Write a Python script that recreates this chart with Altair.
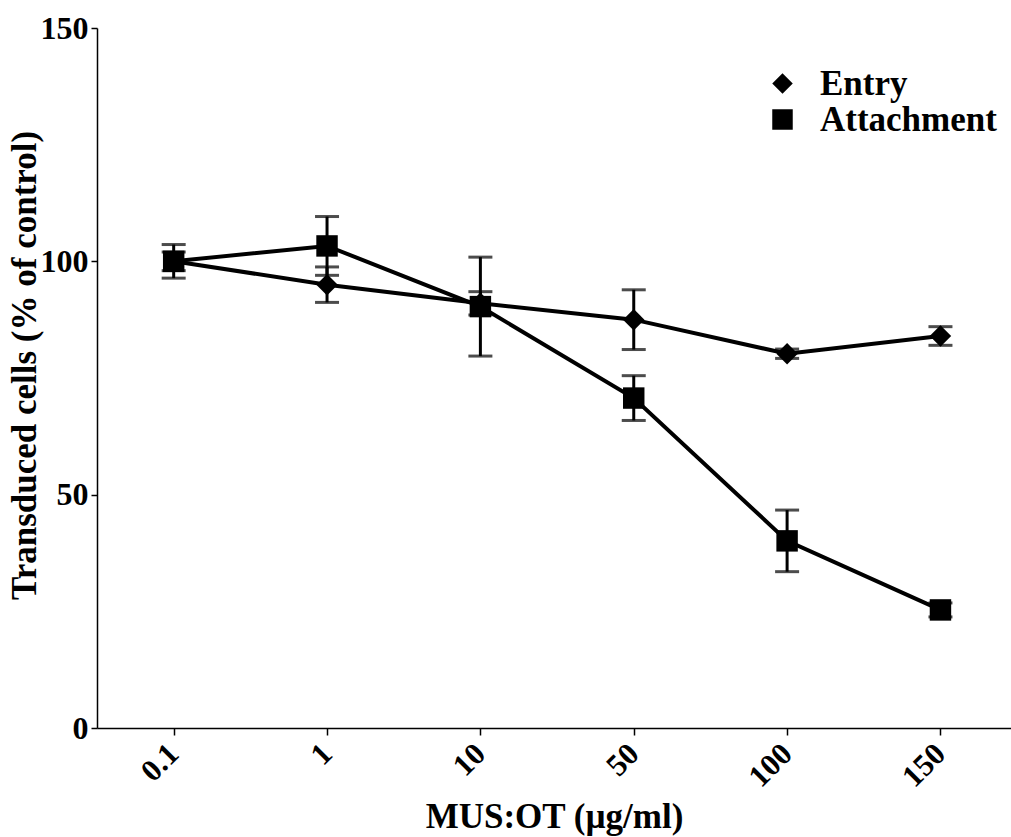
import altair as alt
import pandas as pd

doses = ["0.1", "1", "10", "50", "100", "150"]
entry_mean = [100.0, 95.0, 91.0, 87.5, 80.2, 84.0]
entry_err = [2.0, 3.8, 2.5, 6.4, 1.0, 2.0]
attach_mean = [100.0, 103.3, 90.3, 70.7, 40.1, 25.3]
attach_err = [3.6, 6.3, 10.6, 4.8, 6.6, 1.5]

rows = []
for i, d in enumerate(doses):
    rows.append(dict(idx=i, dose=d, series="Entry", mean=entry_mean[i],
                     lo=entry_mean[i] - entry_err[i], hi=entry_mean[i] + entry_err[i]))
    rows.append(dict(idx=i, dose=d, series="Attachment", mean=attach_mean[i],
                     lo=attach_mean[i] - attach_err[i], hi=attach_mean[i] + attach_err[i]))
df = pd.DataFrame(rows)

FONT = "Liberation Serif"
label_expr = "[" + ",".join("'%s'" % d for d in doses) + "][datum.value]"

xenc = alt.X("idx:Q",
             scale=alt.Scale(domain=[-0.5, 5.46], nice=False, zero=False),
             axis=alt.Axis(values=list(range(len(doses))), labelExpr=label_expr,
                           title="MUS:OT (µg/ml)", labelAngle=-45, grid=False,
                           labelFontSize=31, labelFont=FONT, labelFontWeight="bold",
                           labelBaseline="middle", labelAlign="right",
                           titleFontSize=35, titleFont=FONT, titleFontWeight="bold",
                           titleY=99, titleBaseline="alphabetic",
                           labelPadding=14, tickSize=7, tickColor="black",
                           tickWidth=1.5, domainColor="black", domainWidth=1.5,
                           labelColor="black", titleColor="black"))
yscale = alt.Scale(domain=[0, 150], nice=False)
yaxis = alt.Axis(values=[0, 50, 100, 150], title="Transduced cells (% of control)", grid=False,
                 labelFontSize=32, labelFont=FONT, labelFontWeight="bold",
                 titleFontSize=35, titleFont=FONT, titleFontWeight="bold",
                 titleX=-55, titleY=337, titleAngle=270, titleBaseline="bottom",
                 labelPadding=3, tickSize=6, tickColor="black",
                 tickWidth=1.5, domainColor="black", domainWidth=1.5,
                 labelColor="black", titleColor="black")

base = alt.Chart(df)

lines = base.mark_line(color="black", strokeWidth=4).encode(
    x=xenc, y=alt.Y("mean:Q", scale=yscale, axis=yaxis), detail="series:N")

rules = base.mark_rule(color="black", strokeWidth=3).encode(
    x="idx:Q", y="lo:Q", y2="hi:Q")

caps_hi = base.mark_tick(color="black", orient="horizontal", size=24, thickness=3).encode(
    x="idx:Q", y="hi:Q")
caps_lo = base.mark_tick(color="black", orient="horizontal", size=24, thickness=3).encode(
    x="idx:Q", y="lo:Q")

points = base.mark_point(filled=True, opacity=1, color="black", size=460).encode(
    x="idx:Q", y="mean:Q",
    shape=alt.Shape("series:N",
                    scale=alt.Scale(domain=["Entry", "Attachment"], range=["diamond", "square"]),
                    legend=alt.Legend(title=None, orient="none", legendX=668, legendY=38,
                                      labelFontSize=35, labelFont=FONT, labelFontWeight="bold",
                                      labelColor="black", labelLimit=400,
                                      symbolSize=420, symbolFillColor="black",
                                      symbolStrokeColor="black", symbolStrokeWidth=0,
                                      symbolOpacity=1,
                                      rowPadding=-1, labelOffset=20, padding=0)))

chart = alt.layer(lines, rules, caps_hi, caps_lo, points).properties(
    width=914, height=700,
    autosize=alt.AutoSizeParams(type="none"),
    padding={"left": 97, "top": 28, "right": 0, "bottom": 109},
    background="white",
).configure_view(stroke=None)

chart.save("out.html", embed_options={"renderer": "svg", "actions": False})
